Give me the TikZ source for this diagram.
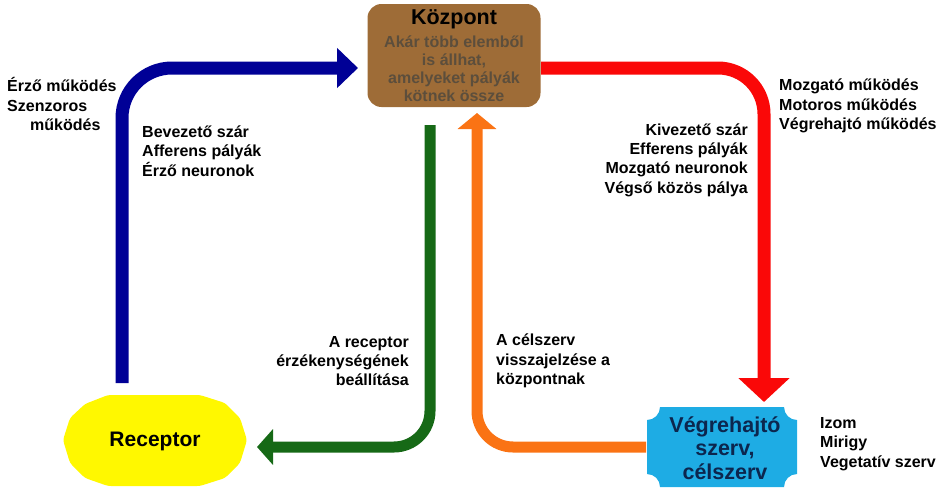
\documentclass[tikz,border=0pt]{standalone}
\usepackage{fontspec}
\setmainfont{Liberation Sans}
\usetikzlibrary{arrows.meta}
\definecolor{cblue}{RGB}{0,0,150}
\definecolor{cred}{RGB}{250,8,8}
\definecolor{cgreen}{RGB}{22,105,22}
\definecolor{corange}{RGB}{250,115,20}
\definecolor{cyellow}{RGB}{255,248,0}
\definecolor{clblue}{RGB}{30,172,228}
\definecolor{cbrown}{RGB}{158,108,55}
\definecolor{csub}{RGB}{92,78,60}
\definecolor{cnavy}{RGB}{12,38,78}
\tikzset{
  lbl/.style={inner sep=0pt, font=\fontsize{16}{19.3}\selectfont\bfseries},
  lblL/.style={lbl, align=left, anchor=west},
  lblR/.style={lbl, align=right, anchor=east},
}
\begin{document}
\begin{tikzpicture}[x=1pt,y=-1pt]
\useasboundingbox (0,0) rectangle (945,490);

% Kozpont
\node[fill=cbrown, rounded corners=14pt, minimum width=173pt, minimum height=103pt,
      inner sep=0pt] (kozpont) at (454,55.5) {};
\node[inner sep=0pt, font=\fontsize{21.5}{22}\selectfont\bfseries] (kt) at (454,19) {Központ};
\node[inner sep=0pt, align=center, text=csub, font=\fontsize{16}{18}\selectfont\bfseries]
  (ks) at (454,69) {Akár több elemből\\ is állhat,\\ amelyeket pályák\\ kötnek össze};

% Receptor
\fill[cyellow, rounded corners=3pt] (63,440) -- (70,418) -- (85,404) -- (108,395) -- (200,395)
  -- (225,403) -- (240,418) -- (247,440) -- (240,463) -- (225,478) -- (200,486) -- (108,486)
  -- (85,478) -- (70,463) -- cycle;
\node[inner sep=0pt, font=\fontsize{21}{22}\selectfont\bfseries] (receptor) at (155,441) {Receptor};

% Vegrehajto
\fill[clblue] (660,407) -- (784,407)
  .. controls (784,414.2) and (789.8,420) .. (797,420) -- (797,474)
  .. controls (789.8,474) and (784,479.8) .. (784,487) -- (660,487)
  .. controls (660,479.8) and (654.2,474) .. (647,474) -- (647,420)
  .. controls (654.2,420) and (660,414.2) .. (660,407) -- cycle;
\node[inner sep=0pt, align=center, text=cnavy, font=\fontsize{21.5}{23.5}\selectfont\bfseries]
  (vegre) at (725,448) {Végrehajtó\\ szerv,\\ célszerv};

% connector end points
\coordinate (b0) at (122,383);
\coordinate (b1) at (122,68);
\coordinate (b2) at (358,68);
\coordinate (r0) at (541,68);
\coordinate (r1) at (764,68);
\coordinate (r2) at (764,402);
\coordinate (g0) at (430,125);
\coordinate (g1) at (430,447);
\coordinate (g2) at (257,447);
\coordinate (o0) at (646,447);
\coordinate (o1) at (477,447);
\coordinate (o2) at (477,113);

\draw[cblue, line width=13pt, rounded corners=50pt,
  -{Triangle[length=21pt,width=39pt]}] (b0) -- (b1) -- (b2);
\draw[cred, line width=13pt, rounded corners=46pt,
  -{Triangle[length=24pt,width=50pt]}] (r0) -- (r1) -- (r2);
\draw[cgreen, line width=11pt, rounded corners=36pt,
  -{Triangle[length=16pt,width=35pt]}] (g0) -- (g1) -- (g2);
\draw[corange, line width=11pt, rounded corners=36pt,
  -{Triangle[length=16pt,width=38pt]}] (o0) -- (o1) -- (o2);

% labels
\node[lblL] (t1) at (7,104) {Érző működés\\ Szenzoros\\ \hspace{23pt}működés};
\node[lblL] (t2) at (142,151) {Bevezető szár\\ Afferens pályák\\ Érző neuronok};
\node[lblL] (t3) at (779,106) {Mozgató működés\\ Motoros működés\\ Végrehajtó működés};
\node[lblR] (t4) at (748,160) {Kivezető szár\hspace{4pt}\\ Efferens pályák\\ Mozgató neuronok\\ Végső közös pálya};
\node[lblR] (t5) at (409,361) {A receptor\\ érzékenységének\\ beállítása};
\node[lblL] (t6) at (496,361) {A célszerv\\ visszajelzése a\\ központnak};
\node[lblL] (t7) at (820,444) {Izom\\ Mirigy\\ Vegetatív szerv};
\end{tikzpicture}
\end{document}
